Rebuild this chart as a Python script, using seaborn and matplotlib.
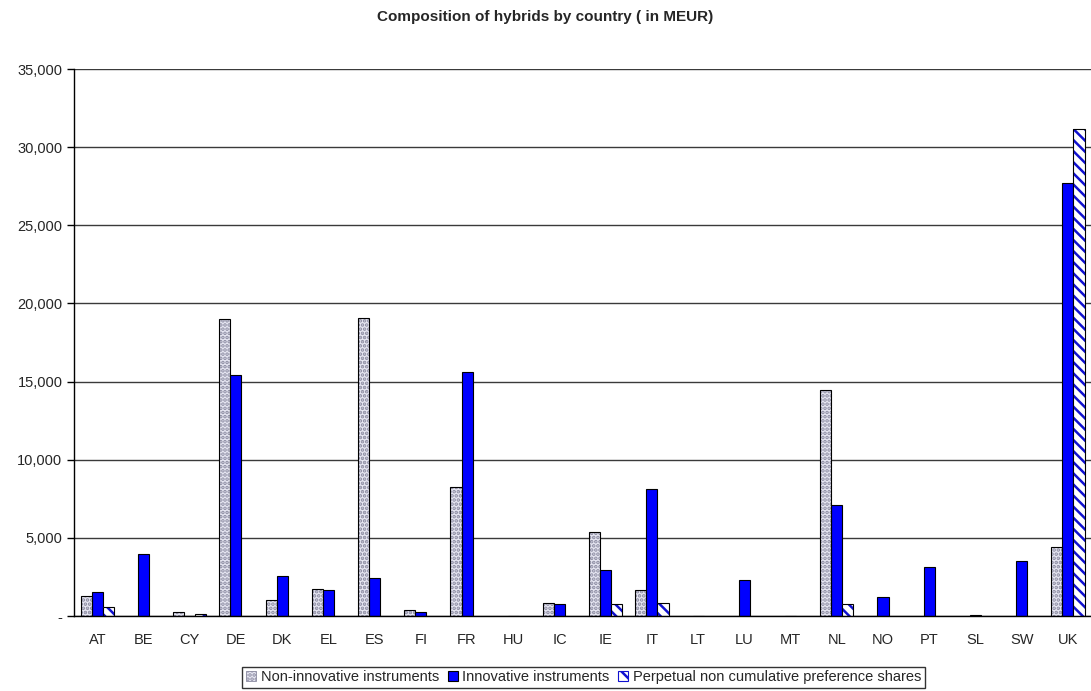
import pandas as pd
import numpy as np
import matplotlib
matplotlib.use("Agg")
import matplotlib.pyplot as plt
import matplotlib.ticker as mticker
from matplotlib.patches import Patch
import seaborn as sns

# ---------------- data (MEUR) ----------------
countries = ["AT", "BE", "CY", "DE", "DK", "EL", "ES", "FI", "FR", "HU", "IC",
             "IE", "IT", "LT", "LU", "MT", "NL", "NO", "PT", "SL", "SW", "UK"]
non_innovative = [1300, 0, 250, 19000, 1050, 1750, 19100, 380, 8250, 0, 850,
                  5350, 1650, 0, 0, 0, 14450, 0, 0, 0, 0, 4400]
innovative = [1550, 3950, 0, 15400, 2550, 1650, 2450, 250, 15600, 0, 780,
              2950, 8150, 0, 2300, 0, 7100, 1200, 3150, 60, 3500, 27700]
perpetual = [600, 0, 150, 0, 0, 0, 0, 0, 0, 0, 0,
             780, 850, 0, 0, 0, 780, 0, 0, 0, 0, 31150]
series = ["Non-innovative instruments", "Innovative instruments",
          "Perpetual non cumulative preference shares"]

df = pd.DataFrame({
    "country": countries * 3,
    "series": [series[0]] * len(countries) + [series[1]] * len(countries) + [series[2]] * len(countries),
    "value": non_innovative + innovative + perpetual,
})

sns.set_style("white")
plt.rcParams["font.family"] = ["Liberation Sans Narrow", "Liberation Sans", "DejaVu Sans"]
plt.rcParams["hatch.linewidth"] = 1.8

fig = plt.figure(figsize=(10.91, 6.91), dpi=100)
ax = fig.add_axes([0.068, 0.1085, 0.932, 0.7915])

pal = {series[0]: "#e6e6f2", series[1]: "#0000ff", series[2]: "#ffffff"}
sns.barplot(data=df, x="country", y="value", hue="series", order=countries,
            hue_order=series, palette=pal, width=0.72, saturation=1,
            edgecolor="black", linewidth=0.8, legend=False, ax=ax)

# patterns: dotted grey, solid blue, blue diagonal stripes
for p in ax.containers[0]:
    p.set_hatch("....")
    p.set_edgecolor("#8a8aa0")
    p.set_linewidth(0)
for p in ax.containers[2]:
    p.set_hatch("\\\\\\")
    p.set_edgecolor("#1010d0")
    p.set_linewidth(0)
# black outlines for the patterned bars
for cont in (ax.containers[0], ax.containers[2]):
    for p in cont:
        if p.get_height() > 0:
            ax.bar(p.get_x(), p.get_height(), width=p.get_width(), align="edge",
                   fill=False, edgecolor="black", linewidth=0.8, zorder=3)

ax.set_ylim(0, 35000)
ax.set_xlim(-0.5, len(countries) - 0.5)
ax.set_yticks(np.arange(0, 35001, 5000))
ax.yaxis.set_major_formatter(mticker.FuncFormatter(lambda v, _: "-" if v == 0 else f"{v:,.0f}"))
ax.yaxis.grid(True, color="#3a3a3a", linewidth=1)
ax.set_axisbelow(True)

ax.set_xticks(np.arange(len(countries) + 1) - 0.5, minor=True)
ax.tick_params(axis="x", which="major", length=0, pad=12, labelsize=10.5)
ax.tick_params(axis="x", which="minor", length=6, width=1, color="black", direction="out")
ax.tick_params(axis="y", which="major", length=5, width=1, color="black", direction="out",
               left=True, labelsize=10.5)

for s in ("top", "right"):
    ax.spines[s].set_visible(False)
for s in ("left", "bottom"):
    ax.spines[s].set_color("black")
    ax.spines[s].set_linewidth(1)

ax.set_xlabel("")
ax.set_ylabel("")

fig.suptitle("Composition of hybrids by country ( in MEUR)", y=0.985, fontsize=11,
             fontweight="bold", x=0.5)

handles = [
    Patch(facecolor="#e6e6f2", edgecolor="#8a8aa0", hatch="....", linewidth=0.6),
    Patch(facecolor="#0000ff", edgecolor="black", linewidth=0.8),
    Patch(facecolor="white", edgecolor="#1010d0", hatch="\\\\", linewidth=0.8),
]
leg = fig.legend(handles=handles, labels=series, loc="lower center",
                 bbox_to_anchor=(0.535, 0.0), ncol=3, frameon=True, fancybox=False,
                 edgecolor="black", fontsize=10.5, handlelength=0.7, handleheight=0.7,
                 handletextpad=0.3, columnspacing=0.6, borderpad=0.25, borderaxespad=0.2)
leg.get_frame().set_linewidth(1)

fig.savefig("out.png", dpi=100)
plt.close()
